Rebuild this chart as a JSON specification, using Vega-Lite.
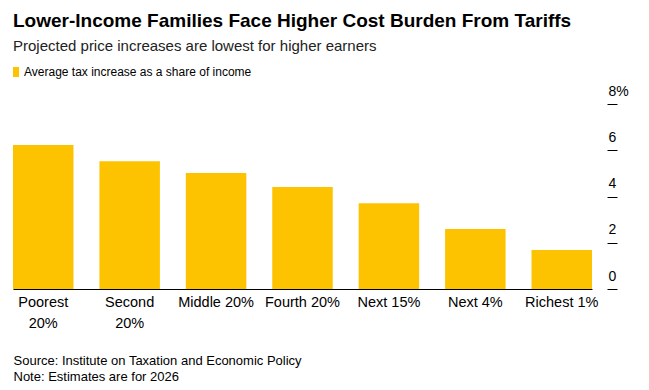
{
  "$schema": "https://vega.github.io/schema/vega-lite/v6.json",
  "width": 604,
  "height": 185,
  "autosize": {"type": "none"},
  "padding": {"left": 13, "top": 104, "right": 32, "bottom": 101},
  "background": "white",
  "title": {
    "text": "Lower-Income Families Face Higher Cost Burden From Tariffs",
    "subtitle": "Projected price increases are lowest for higher earners",
    "anchor": "start",
    "frame": "group",
    "font": "Liberation Sans",
    "fontSize": 19,
    "fontWeight": "bold",
    "color": "#000000",
    "subtitleFont": "Liberation Sans",
    "subtitleFontSize": 15,
    "subtitleColor": "#222222",
    "subtitlePadding": 8,
    "offset": 12
  },
  "data": {
    "values": [
      {"group": "Poorest 20%", "value": 6.23, "series": "Average tax increase as a share of income"},
      {"group": "Second 20%", "value": 5.52, "series": "Average tax increase as a share of income"},
      {"group": "Middle 20%", "value": 5.02, "series": "Average tax increase as a share of income"},
      {"group": "Fourth 20%", "value": 4.41, "series": "Average tax increase as a share of income"},
      {"group": "Next 15%", "value": 3.71, "series": "Average tax increase as a share of income"},
      {"group": "Next 4%", "value": 2.59, "series": "Average tax increase as a share of income"},
      {"group": "Richest 1%", "value": 1.69, "series": "Average tax increase as a share of income"}
    ]
  },
  "mark": {"type": "bar", "color": "#FDC300"},
  "encoding": {
    "x": {
      "field": "group",
      "type": "nominal",
      "sort": null,
      "scale": {"range": [0, 579], "paddingInner": 0.3, "paddingOuter": 0},
      "axis": {
        "title": ["Source: Institute on Taxation and Economic Policy", "Note: Estimates are for 2026"],
        "titleFont": "Liberation Sans",
        "titleFontSize": 13,
        "titleFontWeight": "normal",
        "titleColor": "#000000",
        "titleAnchor": "start",
        "titleAlign": "left",
        "titleBaseline": "top",
        "titleX": 0,
        "titleY": 65,
        "titleLineHeight": 16,
        "labelAngle": 0,
        "labelFont": "Liberation Sans",
        "labelFontSize": 14.5,
        "labelColor": "#000000",
        "labelPadding": 6,
        "labelLineHeight": 21,
        "labelExpr": "indexof(['Poorest 20%','Second 20%'], datum.label) >= 0 ? split(datum.label, ' ') : datum.label",
        "ticks": false,
        "domainColor": "#000000",
        "domainWidth": 1
      }
    },
    "y": {
      "field": "value",
      "type": "quantitative",
      "scale": {"domain": [0, 8], "nice": false},
      "axis": {
        "orient": "right",
        "title": null,
        "values": [0, 2, 4, 6, 8],
        "labelExpr": "datum.value == 8 ? '8%' : datum.label",
        "domain": false,
        "grid": false,
        "offset": -10,
        "tickSize": 10,
        "tickColor": "#000000",
        "tickWidth": 1,
        "labelFont": "Liberation Sans",
        "labelFontSize": 14,
        "labelColor": "#000000",
        "labelAlign": "left",
        "labelBaseline": "alphabetic",
        "labelPadding": -9,
        "labelOffset": -9
      }
    },
    "color": {
      "field": "series",
      "type": "nominal",
      "scale": {"range": ["#FDC300"]},
      "legend": {
        "title": null,
        "orient": "none",
        "legendX": -3,
        "legendY": -38,
        "symbolType": "M-0.6,-1H0.6V1H-0.6Z",
        "symbolSize": 100,
        "symbolStrokeWidth": 0,
        "labelFont": "Liberation Sans",
        "labelFontSize": 12,
        "labelColor": "#000000",
        "labelOffset": 2,
        "labelLimit": 400
      }
    }
  },
  "config": {
    "view": {"stroke": null}
  }
}
